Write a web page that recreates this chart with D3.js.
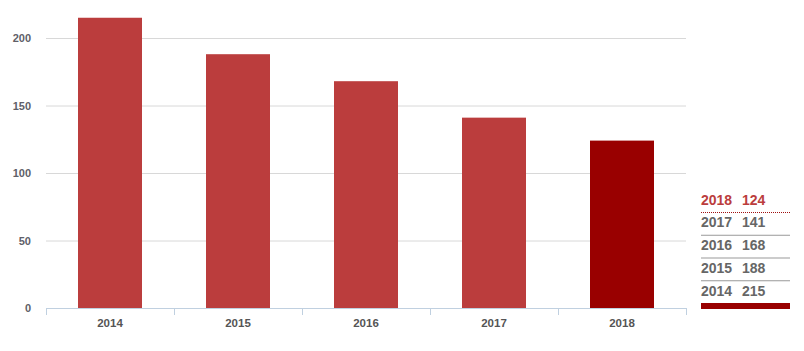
<!DOCTYPE html>
<html>
<head>
<meta charset="utf-8">
<title>bars</title>
<style>
body{margin:0;background:#fff;}
svg{display:block;font-family:"Liberation Sans",Arial,sans-serif;}
</style>
</head>
<body>
<svg id="chart" width="804" height="351"></svg>
<script src="https://cdn.jsdelivr.net/npm/d3@7"></script>
<script>
var years = ["2014","2015","2016","2017","2018"];
var values = [215,188,168,141,124];
var yTicks = [0,50,100,150,200];

var svg = d3.select("#chart");
var left = 46, right = 686, bottom = 308;

var x = d3.scaleBand().domain(years).range([left,right]).paddingInner(0.5).paddingOuter(0.25);
var xb = d3.scaleBand().domain(years).range([left,right]);
var y = d3.scaleLinear().domain([0,200]).range([bottom,38]);

// grid
svg.append("g").selectAll("line").data(yTicks.slice(1)).enter().append("line")
  .attr("x1",left).attr("x2",right)
  .attr("y1",function(d){return y(d)+0.5}).attr("y2",function(d){return y(d)+0.5})
  .attr("stroke","#d8d8d8").attr("stroke-width",1);

// y labels
svg.append("g").selectAll("text").data(yTicks).enter().append("text")
  .attr("x",31).attr("y",function(d){return y(d)+4})
  .attr("text-anchor","end").attr("font-size",11).attr("font-weight","bold")
  .attr("fill","#606068").text(function(d){return d});

// bars
svg.append("g").selectAll("rect").data(values).enter().append("rect")
  .attr("x",function(d,i){return x(years[i])})
  .attr("width",x.bandwidth())
  .attr("y",function(d){return y(d)})
  .attr("height",function(d){return bottom-y(d)})
  .attr("fill",function(d,i){return i==years.length-1?"#990000":"#bb3d3d"});

// x axis
svg.append("line").attr("x1",left).attr("x2",right).attr("y1",bottom+0.5).attr("y2",bottom+0.5)
  .attr("stroke","#c0d0e0");
var bounds = years.map(function(d){return xb(d)}).concat([right]);
svg.append("g").selectAll("line").data(bounds).enter().append("line")
  .attr("x1",function(d){return Math.round(d)+0.5}).attr("x2",function(d){return Math.round(d)+0.5})
  .attr("y1",bottom).attr("y2",bottom+7).attr("stroke","#c0d0e0");
svg.append("g").selectAll("text").data(years).enter().append("text")
  .attr("x",function(d){return xb(d)+xb.bandwidth()/2}).attr("y",bottom+19)
  .attr("text-anchor","middle").attr("font-size",11.5).attr("font-weight","bold")
  .attr("fill","#555").text(function(d){return d});

// legend list on the right
var rows = years.map(function(d,i){return {year:d,value:values[i],i:i}}).reverse();
var lg = svg.append("g");
var rowH = 22.75, ly0 = 204.5;
rows.forEach(function(r,k){
  var ty = ly0 + k*rowH;
  var hi = k==0;
  lg.append("text").attr("x",701).attr("y",ty).attr("font-size",14).attr("font-weight","bold")
    .attr("fill",hi?"#bb3d3d":"#666").text(r.year);
  lg.append("text").attr("x",742).attr("y",ty).attr("font-size",14).attr("font-weight","bold")
    .attr("fill",hi?"#bb3d3d":"#666").text(r.value);
  if(k<rows.length-1){
    lg.append("line").attr("x1",701).attr("x2",790).attr("y1",ty+8).attr("y2",ty+8)
      .attr("stroke",hi?"#a01010":"#999").attr("stroke-width",1)
      .attr("stroke-dasharray",hi?"1,1":null);
  }
});
lg.append("rect").attr("x",701).attr("y",303).attr("width",89).attr("height",6).attr("fill","#990000");
</script>
</body>
</html>
